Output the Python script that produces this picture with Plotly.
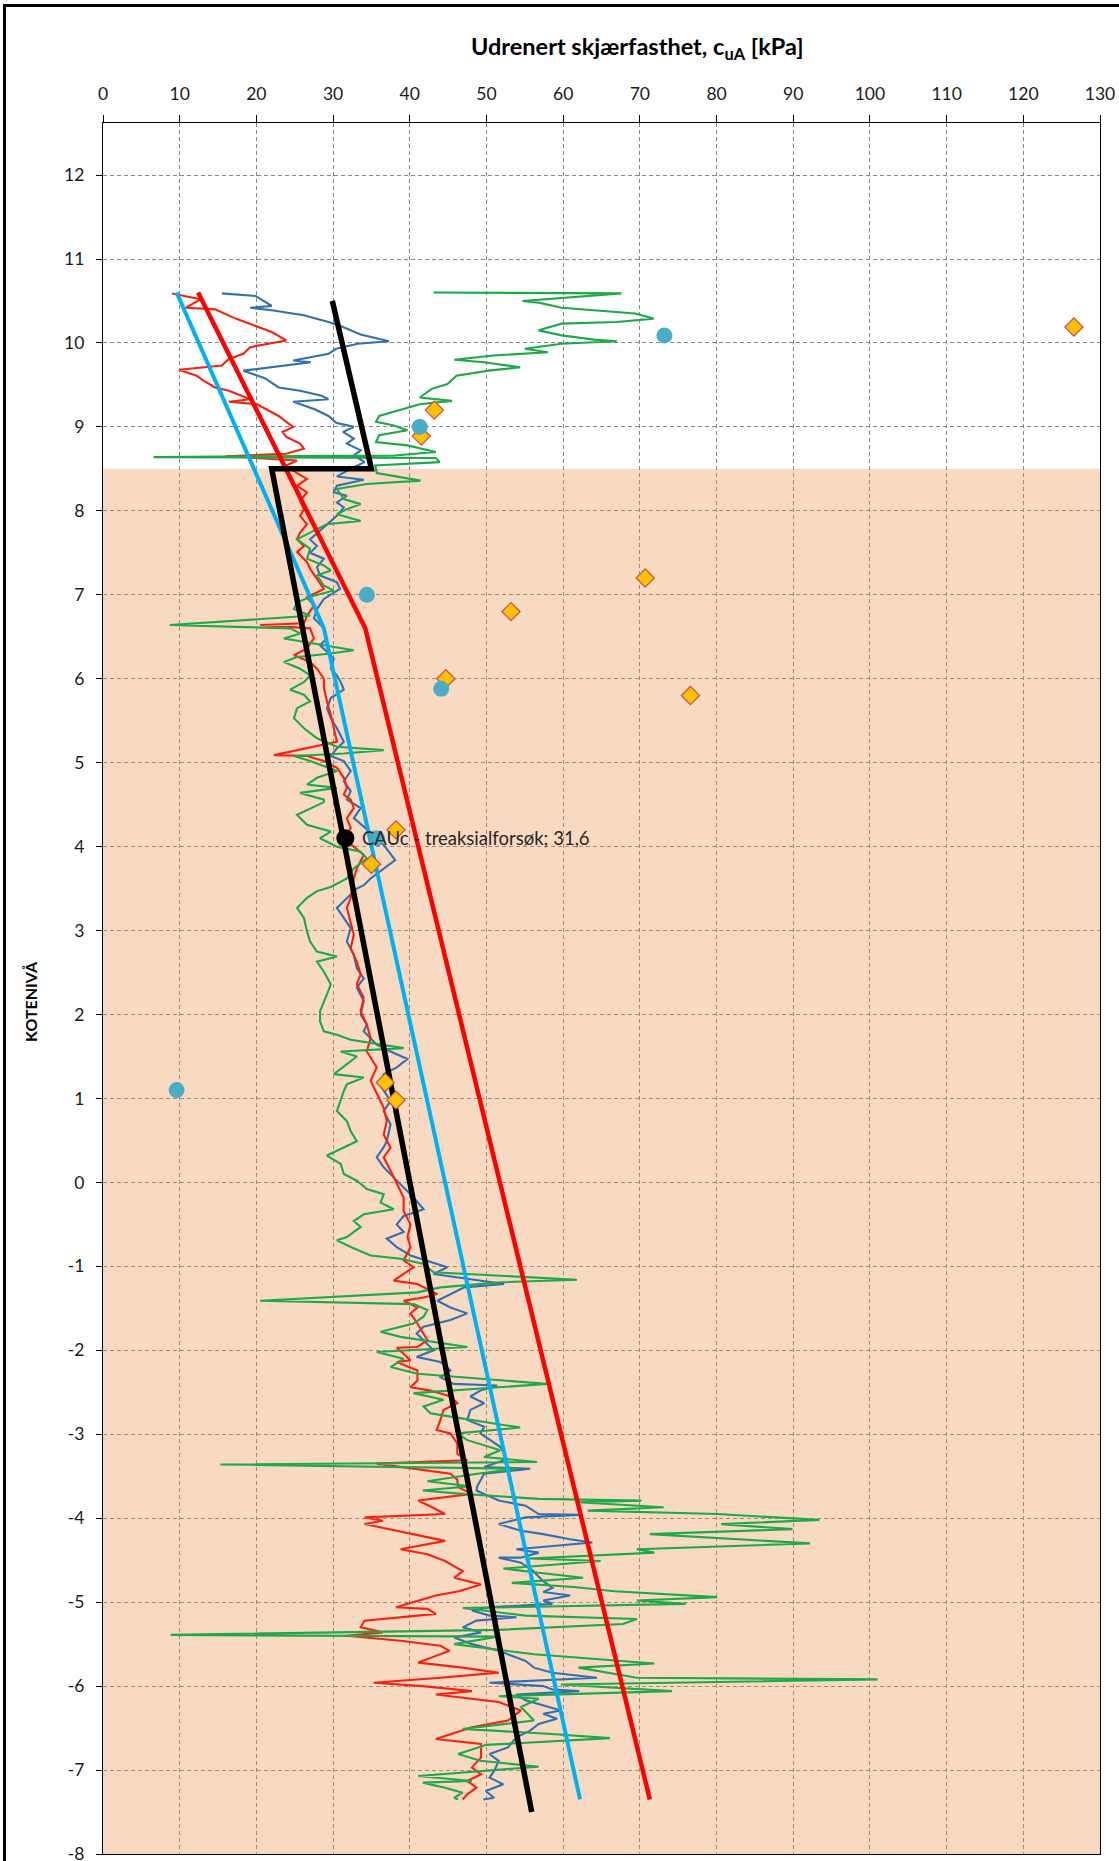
import plotly.graph_objects as go

# ---- axis ticks -------------------------------------------------------------
X_TICKS = list(range(0, 131, 10))
X_TICK_LABELS = [str(v) for v in X_TICKS]
Y_TICKS = list(range(12, -9, -1))
Y_TICK_LABELS = [str(v) for v in Y_TICKS]

# ---- clay layer (shaded) ----------------------------------------------------
CLAY_TOP = 8.5
CLAY_BOTTOM = -8.0

# ---- CPTU profile 1 (blue) --------------------------------------------------
cptu1_su = [15.5, 19.9, 22.0, 19.2, 22.0, 26.2, 29.4, 31.3, 33.6, 35.5, 37.3, 33.2, 30.4, 29.4, 26.2, 24.8, 27.1, 18.3,
            21.1, 22.9, 25.7, 28.5, 29.4, 24.8, 27.6, 29.4, 30.4, 32.7, 31.3, 32.7, 31.8, 33.6, 32.7, 34.1, 32.7,
            30.5, 34.0, 30.5, 30.1, 31.8, 30.5, 31.4, 30.5, 28.8, 27.0, 27.9, 27.0, 28.8, 27.9, 28.3, 30.5, 30.9,
            28.8, 27.9, 27.5, 28.8, 29.2, 28.3, 30.1, 29.7, 30.5, 31.0, 31.4, 29.7, 29.2, 29.7, 30.5, 31.4, 30.5,
            29.7, 31.4, 32.3, 31.4, 32.3, 31.8,
            33.6, 32.7, 34.5, 36.6, 38.1, 36.6, 34.9, 34.0, 33.1, 30.5, 31.4, 32.3, 31.8, 32.7, 33.1, 34.0, 33.1,
            34.0, 33.6, 34.4, 34.0, 35.7, 37.5, 39.7, 38.3, 36.6, 36.2, 37.5, 36.6, 37.5, 37.0,
            36.6, 35.7, 36.6, 37.9, 39.2, 40.5, 41.8, 39.2, 38.3, 39.2, 37.0, 38.3, 40.1, 42.7, 44.9, 43.1, 49.7,
            52.3, 47.1, 45.3, 43.6, 45.3, 47.5, 45.3, 41.8, 40.9, 41.8, 43.1, 40.9, 44.0, 45.3, 44.0, 45.7, 51.4,
            49.2, 47.9, 49.7, 47.9, 47.5, 49.7, 49.2, 50.5, 51.8, 52.3, 52.3, 49.7, 55.7, 49.7, 48.8,
            48.7, 51.6, 55.1, 56.8, 62.1, 55.1, 51.6, 54.5, 57.4, 60.9, 63.8, 53.9, 56.8, 54.5, 51.6, 54.5, 56.0,
            57.4, 58.6, 57.4, 60.9, 57.4, 58.6, 50.4, 48.1, 50.4, 53.9, 48.7, 46.9, 49.3, 45.8, 48.1, 51.6, 52.8,
            55.1, 56.2, 58.6, 64.4, 50.4, 57.4, 58.6, 62.1, 53.9, 55.1, 57.4, 59.7, 57.4, 59.2, 56.8, 55.7, 53.9,
            52.8, 50.4, 51.6, 51.0, 50.4, 52.2, 49.9, 51.0, 49.6]
cptu1_z = [10.59, 10.56, 10.44, 10.42, 10.39, 10.33, 10.25, 10.19, 10.10, 10.06, 10.02, 9.99, 9.93, 9.87, 9.81, 9.79,
           9.77, 9.67, 9.58, 9.47, 9.43, 9.37, 9.33, 9.30, 9.21, 9.13, 9.05, 9.00, 8.94, 8.86, 8.80, 8.72, 8.66,
           8.58, 8.52,
           8.41, 8.37, 8.30, 8.22, 8.18, 8.10, 8.04, 7.94, 7.80, 7.66, 7.58, 7.50, 7.43, 7.33, 7.23, 7.15, 7.07,
           6.95, 6.83, 6.72, 6.60, 6.48, 6.40, 6.24, 6.12, 6.04, 5.96, 5.87, 5.77, 5.65, 5.53, 5.41, 5.25, 5.17,
           5.08, 5.02, 4.90, 4.78, 4.66, 4.56,
           4.46, 4.34, 4.20, 4.02, 3.84, 3.74, 3.62, 3.54, 3.50, 3.27, 3.15, 3.03, 2.87, 2.71, 2.55, 2.43, 2.32,
           2.16, 2.00, 1.88, 1.80, 1.64, 1.56, 1.47, 1.37, 1.29, 1.15, 0.97, 0.85, 0.69, 0.49,
           0.42, 0.30, 0.18, 0.06, -0.06, -0.18, -0.32, -0.40, -0.50, -0.59, -0.67, -0.77, -0.87, -0.95, -1.01,
           -1.09, -1.17, -1.21, -1.25, -1.33, -1.41, -1.49, -1.56, -1.64, -1.72, -1.80, -1.88, -2.00, -2.08, -2.14,
           -2.24, -2.32, -2.40, -2.42, -2.48, -2.55, -2.63, -2.71, -2.83, -2.91, -2.99, -3.07, -3.15, -3.23, -3.31,
           -3.39, -3.41, -3.47, -3.62,
           -3.67, -3.79, -3.85, -3.95, -3.96, -3.99, -4.07, -4.15, -4.19, -4.25, -4.29, -4.37, -4.41, -4.47, -4.47,
           -4.53, -4.62, -4.75, -4.83, -4.88, -4.92, -4.98, -5.02, -5.06, -5.10, -5.16, -5.18, -5.22, -5.30, -5.36,
           -5.42, -5.50, -5.58, -5.62, -5.70, -5.78, -5.84, -5.90, -5.96, -6.00, -6.04, -6.06, -6.10, -6.17, -6.23,
           -6.29, -6.33, -6.39, -6.45, -6.53, -6.61, -6.73, -6.81, -6.89, -7.01, -7.09, -7.17, -7.25, -7.33, -7.35]

# ---- CPTU profile 2 (red) ---------------------------------------------------
cptu2_su = [9.0, 12.7, 10.8, 14.6, 17.3, 20.1, 22.0, 23.9, 19.2, 18.3, 16.4, 15.5, 9.9, 12.2, 13.1, 14.6, 16.4, 19.2,
            16.4, 20.1, 22.9, 23.9, 24.8, 23.4, 23.9, 25.7, 26.2, 23.9, 16.0, 25.3, 23.9,
            25.3, 26.6, 25.3, 26.6, 25.7, 26.2, 25.7, 26.6, 25.7, 25.3, 26.2, 25.3, 26.6, 27.0, 27.9, 28.8, 26.6,
            27.5, 26.6, 26.2, 20.5, 27.0, 27.5, 26.6, 24.9, 27.0, 27.9, 28.8, 28.8, 29.2, 29.7, 30.1, 30.5, 22.3,
            26.6, 28.8, 30.5, 31.4, 31.8, 31.4, 32.3,
            32.7, 31.8, 32.3, 31.4, 34.0, 33.1, 32.7, 32.3, 31.8, 32.3, 32.7, 32.3, 33.1, 33.6, 33.1, 34.0, 33.6,
            34.4, 34.9, 34.4, 35.7, 34.9, 35.7, 36.6, 37.0, 36.6, 37.5,
            36.6, 37.5, 38.3, 39.2, 39.2, 40.1, 39.7, 40.1, 39.2, 40.5, 39.2, 37.9, 41.0, 43.6, 41.8, 39.2, 41.0,
            40.1, 41.0, 42.3, 41.0, 38.3, 39.2, 40.1, 38.3, 41.0, 41.0, 40.1, 42.7, 45.3, 46.2, 44.4, 44.0, 43.5,
            45.3, 46.2, 46.2, 47.5, 35.7, 45.3, 46.2,
            46.3, 48.1, 41.1, 42.9, 44.6, 34.1, 36.5, 34.1, 38.2, 44.6, 38.8, 42.3, 44.6, 46.9, 45.8, 49.3, 46.4,
            43.4, 38.2, 42.3, 43.4, 34.1, 33.6, 36.5, 31.8, 38.8, 44.0, 45.2, 43.4, 41.1, 46.9, 51.6, 44.0, 35.3,
            41.7, 48.1, 43.4, 51.6, 54.5, 52.8, 48.1, 43.4, 49.3, 49.3, 48.1, 49.3, 47.5, 48.7, 47.5, 46.9]
cptu2_z = [10.59, 10.52, 10.42, 10.40, 10.29, 10.19, 10.13, 10.03, 9.95, 9.87, 9.81, 9.73, 9.68, 9.61, 9.55, 9.47,
           9.43, 9.33, 9.30, 9.27, 9.13, 9.06, 9.00, 8.94, 8.88, 8.80, 8.74, 8.68, 8.65, 8.60, 8.54,
           8.45, 8.38, 8.30, 8.22, 8.12, 8.02, 7.94, 7.84, 7.74, 7.66, 7.58, 7.51, 7.39, 7.31, 7.19, 7.07, 6.97,
           6.87, 6.75, 6.66, 6.64, 6.60, 6.48, 6.36, 6.28, 6.20, 6.12, 6.00, 5.89, 5.73, 5.57, 5.41, 5.25, 5.09,
           5.08, 5.02, 4.94, 4.82, 4.70, 4.62, 4.56,
           4.46, 4.34, 4.22, 4.10, 3.90, 3.74, 3.62, 3.39, 3.27, 3.11, 2.95, 2.79, 2.63, 2.48, 2.36, 2.20, 2.04,
           1.88, 1.72, 1.56, 1.37, 1.21, 1.05, 0.89, 0.73, 0.57, 0.41,
           0.30, 0.14, -0.02, -0.18, -0.34, -0.50, -0.65, -0.77, -0.93, -1.01, -1.09, -1.17, -1.21, -1.33, -1.37,
           -1.41, -1.49, -1.56, -1.68, -1.88, -1.96, -1.97, -2.04, -2.12, -2.14, -2.24, -2.36, -2.44, -2.48, -2.55,
           -2.63, -2.71, -2.83, -2.95, -2.99, -3.11, -3.23, -3.31, -3.35, -3.47, -3.54,
           -3.63, -3.71, -3.79, -3.87, -3.95, -3.99, -4.03, -4.07, -4.15, -4.27, -4.37, -4.43, -4.51, -4.63, -4.71,
           -4.79, -4.87, -4.92, -5.06, -5.08, -5.14, -5.22, -5.30, -5.36, -5.40, -5.46, -5.52, -5.58, -5.64, -5.72,
           -5.78, -5.84, -5.90, -5.96, -6.00, -6.06, -6.10, -6.19, -6.29, -6.41, -6.49, -6.63, -6.69, -6.85, -6.97,
           -7.05, -7.13, -7.21, -7.29, -7.35]

# ---- CPTU profile 3 (green) -------------------------------------------------
cptu3_su = [43.1, 67.6, 54.7, 56.8, 59.8, 65.8, 69.4, 71.8, 67.0, 59.8, 56.8, 59.8, 64.0, 67.0, 59.8, 55.0, 58.0, 50.9,
            45.8, 49.7, 54.4, 50.3, 46.1, 44.9, 42.8, 41.3, 45.5, 41.3, 38.9,
            36.0, 35.6, 37.8, 39.7, 36.0, 35.6, 39.7, 43.4, 38.0, 6.6, 43.4, 43.9, 35.5,
            35.7, 41.4, 34.4, 30.5, 31.4, 33.6, 31.8, 30.5, 33.6, 29.2, 27.0, 25.3, 27.0, 26.6, 28.8, 29.7, 27.9,
            28.8, 30.1, 27.5, 25.3, 24.9, 27.0, 8.7, 24.4, 25.7, 23.6, 28.8, 32.7, 29.7, 25.3, 23.6, 25.7, 27.0,
            26.2, 24.4, 26.2, 27.0, 25.3, 24.9, 26.2, 27.9, 30.5, 36.6, 31.4, 24.9, 27.0, 30.5, 27.9, 26.6, 30.5,
            25.7, 28.8,
            28.8, 25.3, 26.6, 29.7, 28.3, 30.5, 33.6, 34.4, 32.7, 31.8, 29.7, 27.9, 26.6, 25.3, 26.2, 26.6, 27.0,
            27.9, 30.5, 27.9, 28.8, 29.7, 29.2, 28.3, 28.3, 28.8, 30.5, 32.3, 39.2, 31.0, 33.1, 30.1, 34.0, 31.8,
            31.4, 30.5, 31.8, 32.3, 33.1,
            29.2, 31.0, 31.4, 33.1, 34.4, 36.6, 36.2, 37.9, 34.0, 32.7, 33.6, 31.8, 30.5, 32.3, 34.9, 38.8, 41.8,
            43.1, 61.8, 51.8, 44.0, 41.0, 20.5, 40.5, 42.3, 41.8, 40.5, 36.2, 38.8, 47.5, 35.7, 39.2, 37.5, 41.0,
            57.9, 40.5, 44.4, 41.8, 42.7, 45.3, 54.4, 46.2, 47.5, 51.8, 49.7, 56.6, 15.3, 54.0, 48.8, 42.3, 47.9,
            41.7, 46.9, 56.8, 70.2, 62.0, 73.1, 63.2, 80.1, 93.4, 80.6, 89.9, 71.3, 92.2, 69.6, 71.9, 55.6, 64.9,
            52.2, 56.8, 62.6, 53.3, 61.4, 66.7, 80.1, 69.6, 76.0, 46.9, 55.1, 69.6, 67.8, 51.6, 8.8, 51.6, 45.8,
            49.2, 56.2, 71.9, 62.0, 69.6, 101.0, 59.7, 74.2, 51.6, 56.8, 54.5, 56.2, 46.9, 58.5, 66.1, 50.0, 46.3,
            49.2, 56.8, 41.1, 48.1, 41.7, 44.6, 46.9, 45.8, 46.3]
cptu3_z = [10.60, 10.59, 10.50, 10.48, 10.42, 10.38, 10.35, 10.29, 10.25, 10.23, 10.15, 10.09, 10.04, 10.02, 9.99,
           9.93, 9.89, 9.85, 9.80, 9.77, 9.71, 9.67, 9.61, 9.51, 9.45, 9.35, 9.31, 9.27, 9.21,
           9.13, 9.06, 9.02, 8.96, 8.90, 8.82, 8.78, 8.70, 8.66, 8.64, 8.63, 8.58, 8.54,
           8.45, 8.36, 8.32, 8.26, 8.14, 8.08, 8.02, 7.96, 7.88, 7.84, 7.74, 7.66, 7.55, 7.43, 7.35, 7.29, 7.23,
           7.11, 7.05, 6.99, 6.91, 6.83, 6.75, 6.64, 6.60, 6.54, 6.48, 6.40, 6.34, 6.30, 6.26, 6.20, 6.12, 6.04,
           5.96, 5.87, 5.81, 5.73, 5.65, 5.53, 5.41, 5.29, 5.19, 5.15, 5.11, 5.08, 5.02, 4.90, 4.82, 4.74, 4.70,
           4.64, 4.56,
           4.53, 4.38, 4.26, 4.18, 4.10, 4.00, 3.94, 3.86, 3.74, 3.62, 3.52, 3.47, 3.39, 3.27, 3.15, 2.99, 2.87,
           2.75, 2.69, 2.63, 2.51, 2.36, 2.24, 2.04, 1.92, 1.80, 1.76, 1.70, 1.60, 1.56, 1.50, 1.29, 1.25, 1.17,
           1.09, 0.85, 0.73, 0.61, 0.49,
           0.32, 0.22, 0.10, 0.02, -0.08, -0.14, -0.24, -0.32, -0.38, -0.46, -0.53, -0.65, -0.69, -0.77, -0.87,
           -0.91, -0.97, -1.07, -1.16, -1.19, -1.25, -1.31, -1.41, -1.45, -1.52, -1.60, -1.68, -1.78, -1.84,
           -1.96, -2.02, -2.10, -2.20, -2.28, -2.40, -2.51, -2.59, -2.67, -2.75, -2.79, -2.92, -2.99, -3.07,
           -3.19, -3.27, -3.33, -3.36, -3.41, -3.47, -3.56, -3.62,
           -3.67, -3.71, -3.77, -3.79, -3.81, -3.87, -3.91, -3.95, -4.02, -4.07, -4.13, -4.19, -4.30, -4.37,
           -4.41, -4.48, -4.51, -4.60, -4.65, -4.71, -4.77, -4.82, -4.87, -4.94, -4.98, -5.02, -5.07, -5.16,
           -5.20, -5.26, -5.33, -5.39, -5.41, -5.50, -5.54, -5.62, -5.73, -5.78, -5.90, -5.92, -5.98, -6.06,
           -6.12, -6.15, -6.25, -6.41, -6.51, -6.57, -6.62, -6.70, -6.81, -6.89, -6.96, -7.07, -7.13, -7.15,
           -7.21, -7.27, -7.33, -7.35]

# ---- interpreted design profiles --------------------------------------------
design_red_su = [12.4, 34.2, 71.3]
design_red_z = [10.6, 6.6, -7.35]
design_blue_su = [9.6, 28.8, 62.2]
design_blue_z = [10.6, 6.6, -7.35]
design_black_su = [29.9, 35.0, 22.0, 55.9]
design_black_z = [10.5, 8.5, 8.5, -7.5]

# ---- laboratory results ------------------------------------------------------
lab_circle_su = [73.2, 41.3, 34.4, 44.1, 35.7, 9.6]
lab_circle_z = [10.09, 9.0, 7.0, 5.88, 4.1, 1.1]
lab_diamond_su = [126.6, 43.2, 41.5, 70.7, 53.2, 44.7, 76.6, 38.2, 35.0, 36.8, 38.2]
lab_diamond_z = [10.19, 9.2, 8.89, 7.2, 6.8, 6.0, 5.8, 4.2, 3.79, 1.19, 0.98]

# ---- triaxial test -----------------------------------------------------------
cauc_su = 31.6
cauc_z = 4.1
cauc_label = "CAUc - treaksialforsøk; 31,6"

FONT = "Lato"
W, H = 1119, 1861
M_L, M_R, M_T, M_B = 103, 19, 123, 7
Y_MIN, Y_MAX = -8.0, 12.62

fig = go.Figure()

# translucent clay band, laid over the grid and the plot frame
fig.add_trace(go.Scatter(
    x=[0, 130, 130, 0, 0], y=[CLAY_BOTTOM, CLAY_BOTTOM, CLAY_TOP, CLAY_TOP, CLAY_BOTTOM],
    mode="lines", fill="toself", fillcolor="rgba(234,143,70,0.33)",
    line=dict(width=0), hoverinfo="skip", showlegend=False))

profile_style = dict(mode="lines", hoverinfo="skip", showlegend=False)
fig.add_trace(go.Scatter(x=cptu1_su, y=cptu1_z, line=dict(color="#3170B0", width=2.1), **profile_style))
fig.add_trace(go.Scatter(x=cptu2_su, y=cptu2_z, line=dict(color="#FA2010", width=2.1), **profile_style))
fig.add_trace(go.Scatter(x=cptu3_su, y=cptu3_z, line=dict(color="#1EA848", width=2.1), **profile_style))

fig.add_trace(go.Scatter(x=design_blue_su, y=design_blue_z, mode="lines",
                         line=dict(color="#00B0F0", width=4), hoverinfo="skip", showlegend=False))
fig.add_trace(go.Scatter(x=design_red_su, y=design_red_z, mode="lines",
                         line=dict(color="#FF0000", width=4.5), hoverinfo="skip", showlegend=False))
fig.add_trace(go.Scatter(x=design_black_su, y=design_black_z, mode="lines",
                         line=dict(color="#000000", width=5.5), hoverinfo="skip", showlegend=False))

fig.add_trace(go.Scatter(x=lab_diamond_su, y=lab_diamond_z, mode="markers",
                         marker=dict(symbol="diamond", size=14, color="#FFC000",
                                     line=dict(color="#C0504D", width=1.2)),
                         hoverinfo="skip", showlegend=False))
fig.add_trace(go.Scatter(x=lab_circle_su, y=lab_circle_z, mode="markers",
                         marker=dict(symbol="circle", size=16, color="#4BACC6", line=dict(width=0)),
                         hoverinfo="skip", showlegend=False))
fig.add_trace(go.Scatter(x=[cauc_su], y=[cauc_z], mode="markers",
                         marker=dict(symbol="circle", size=18, color="#000000"),
                         hoverinfo="skip", showlegend=False))

fig.add_annotation(x=cauc_su, y=cauc_z, xref="x", yref="y", text=cauc_label, showarrow=False,
                   xanchor="left", yanchor="middle", xshift=15,
                   font=dict(family=FONT, size=18.5, color="#262626"))

plot_w = W - M_L - M_R
plot_h = H - M_T - M_B

def px_to_paper_x(px):
    return (px - M_L) / plot_w

def px_to_paper_y(py):
    return (H - M_B - py) / plot_h

fig.add_annotation(x=px_to_paper_x(637), y=px_to_paper_y(48), xref="paper", yref="paper",
                   text="<b>Udrenert skjærfasthet, c<sub>uA</sub> [kPa]</b>", showarrow=False,
                   xanchor="center", yanchor="middle",
                   font=dict(family=FONT, size=23.5, color="#000000"))
fig.add_annotation(x=px_to_paper_x(31), y=px_to_paper_y(1002), xref="paper", yref="paper",
                   text="<b>KOTENIVÅ</b>", textangle=-90, showarrow=False,
                   xanchor="center", yanchor="middle",
                   font=dict(family=FONT, size=16, color="#000000"))

# outer chart frame
fig.add_shape(type="rect", xref="paper", yref="paper",
              x0=px_to_paper_x(4.5), x1=px_to_paper_x(W + 40),
              y0=px_to_paper_y(H + 40), y1=px_to_paper_y(5.5),
              line=dict(color="#000000", width=3), fillcolor="rgba(0,0,0,0)", layer="above")

grid = dict(showgrid=True, gridcolor="#858585", gridwidth=1, griddash="4px,3px")
fig.update_xaxes(range=[0, 130], side="top", tickvals=X_TICKS, ticktext=X_TICK_LABELS,
                 ticks="outside", ticklen=7, tickcolor="#000000", tickwidth=1,
                 showline=True, linecolor="#000000", linewidth=1.3, mirror=True,
                 layer="below traces", zeroline=False, ticklabelstandoff=8,
                 ticklabeloverflow="allow", automargin=False,
                 tickfont=dict(family=FONT, size=17.5, color="#1A1A1A"), **grid)
fig.update_yaxes(range=[Y_MIN, Y_MAX], tickvals=Y_TICKS, ticktext=Y_TICK_LABELS,
                 ticks="outside", ticklen=6, tickcolor="#000000", tickwidth=1,
                 showline=True, linecolor="#000000", linewidth=1.3, mirror=True,
                 layer="below traces", zeroline=False, ticklabelstandoff=8,
                 ticklabeloverflow="allow", automargin=False,
                 tickfont=dict(family=FONT, size=17.5, color="#1A1A1A"), **grid)

fig.update_layout(width=W, height=H, margin=dict(l=M_L, r=M_R, t=M_T, b=M_B),
                  paper_bgcolor="#FFFFFF", plot_bgcolor="#FFFFFF", showlegend=False)

fig.write_html("out.html")
